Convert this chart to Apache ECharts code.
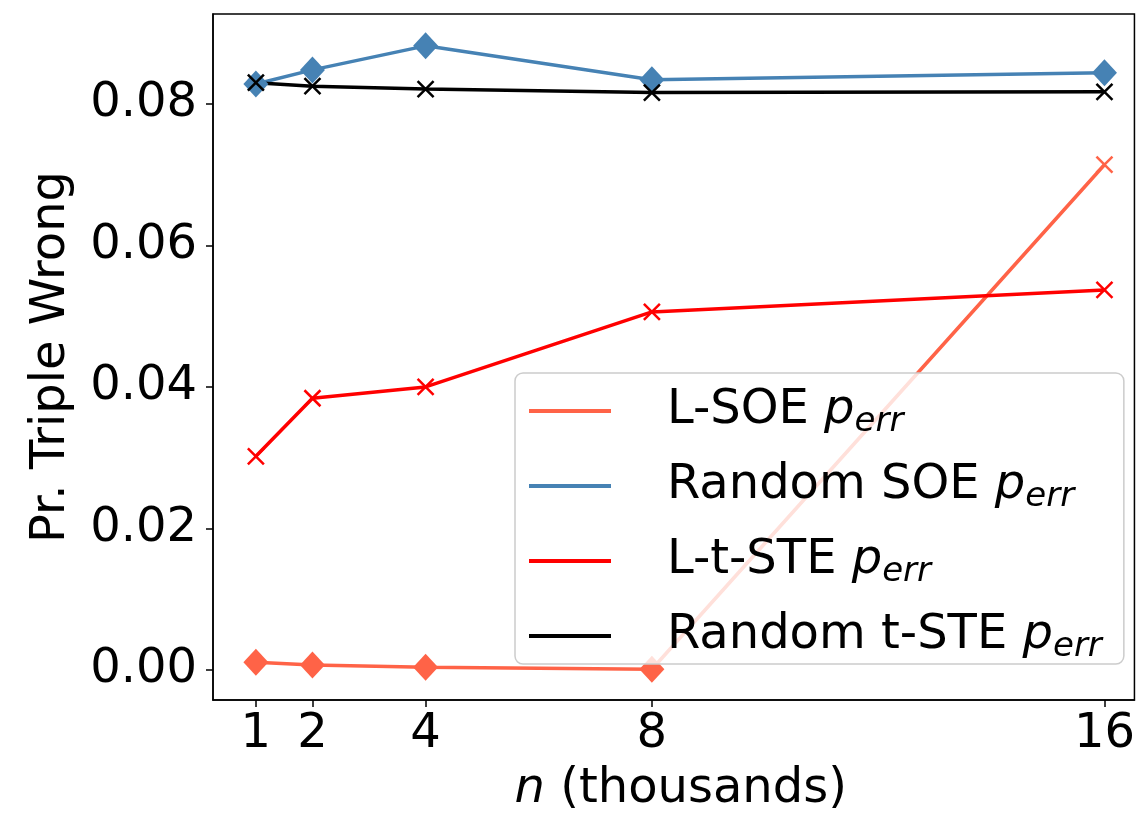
<!DOCTYPE html>
<html>
<head>
<meta charset="utf-8">
<script src="https://cdn.jsdelivr.net/npm/echarts@6/dist/echarts.min.js"></script>
<style>html,body{margin:0;padding:0;background:#fff}#c{width:1138px;height:819px}</style>
</head>
<body>
<div id="c"></div>
<script>
const nValues = [1, 2, 4, 8, 16];
const lSoe = [0.0011, 0.0007, 0.0004, 0.0001, 0.0714];
const lSoeMarkers = ['d', 'd', 'd', 'd', 'x'];
const randomSoe = [0.0828, 0.0848, 0.0882, 0.0834, 0.0844];
const randomSoeMarkers = ['d', 'd', 'd', 'd', 'd'];
const lTste = [0.0302, 0.0384, 0.0400, 0.0506, 0.0537];
const lTsteMarkers = ['x', 'x', 'x', 'x', 'x'];
const randomTste = [0.0830, 0.0825, 0.0821, 0.0816, 0.0817];
const randomTsteMarkers = ['x', 'x', 'x', 'x', 'x'];
const xTicks = [1, 2, 4, 8, 16];
const yTicks = [0, 0.02, 0.04, 0.06, 0.08];
const seriesNames = ['L-SOE', 'Random SOE', 'L-t-STE', 'Random t-STE'];
const seriesColors = ['#ff6347', '#4682b4', '#ff0000', '#000000'];

const FONT = 'DejaVu Sans';
const FS = 48;
const xMark = 'path://M0,0L10,10M10,0L0,10';

function markerStyle(m, color) {
  if (m === 'x') {
    return { symbol: xMark, symbolSize: 16, itemStyle: { color: 'rgba(0,0,0,0)', borderColor: color, borderWidth: 2.5 } };
  }
  return { symbol: 'diamond', symbolSize: [25, 27], itemStyle: { color: color, borderWidth: 0 } };
}

function lineSeries(name, data, markers, color) {
  return {
    name, type: 'line',
    data: nValues.map((x, i) => Object.assign({ value: [x, data[i]] }, markerStyle(markers[i], color))),
    showAllSymbol: true,
    lineStyle: { color, width: 3.5 },
    itemStyle: { color },
    emphasis: { disabled: true },
    animation: false,
    z: 2
  };
}

const chart = echarts.init(document.getElementById('c'), null, { renderer: 'canvas' });
chart.setOption({
  animation: false,
  grid: { left: 213, right: 1, top: 14, bottom: 119, show: true, borderColor: '#000', borderWidth: 1.5, backgroundColor: 'transparent' },
  xAxis: {
    type: 'value', min: 0.242, max: 16.53,
    name: '{i|n} (thousands)', nameLocation: 'middle', nameGap: 66,
    nameTextStyle: { fontFamily: FONT, fontSize: FS, color: '#000', padding: [0, 0, 0, 14], rich: { i: { fontFamily: FONT, fontSize: FS, fontStyle: 'italic', color: '#000' } } },
    axisLine: { show: true, onZero: false, lineStyle: { color: '#000', width: 1.5 } },
    axisTick: { show: true, customValues: xTicks, length: 7, lineStyle: { color: '#000', width: 1.5 } },
    axisLabel: { customValues: xTicks, fontFamily: FONT, fontSize: FS, color: '#000', margin: 11 },
    splitLine: { show: false }
  },
  yAxis: {
    type: 'value', min: -0.00424, max: 0.0927,
    name: 'Pr. Triple Wrong', nameLocation: 'middle', nameGap: 137, nameRotate: 90,
    nameTextStyle: { fontFamily: FONT, fontSize: FS, color: '#000' },
    axisLine: { show: true, onZero: false, lineStyle: { color: '#000', width: 1.5 } },
    axisTick: { show: true, customValues: yTicks, length: 7, lineStyle: { color: '#000', width: 1.5 } },
    axisLabel: { customValues: yTicks, fontFamily: FONT, fontSize: FS, color: '#000', margin: 16, formatter: v => v.toFixed(2) },
    splitLine: { show: false }
  },
  legend: {
    data: seriesNames.map((n, i) => ({ name: n, itemStyle: { color: seriesColors[i], borderWidth: 0 } })),
    left: 515, top: 373, orient: 'vertical',
    backgroundColor: 'rgba(255,255,255,0.8)', borderColor: '#ccc', borderWidth: 1.5, borderRadius: 8,
    padding: [14, 22, 0, 14],
    icon: 'rect', itemWidth: 82, itemHeight: 4, itemGap: 23,
    z: 10,
    formatter: name => name + ' {i|p}{s|err}',
    textStyle: {
      fontFamily: FONT, fontSize: FS, color: '#000', padding: [0, 0, 0, 51],
      rich: {
        i: { fontFamily: FONT, fontSize: FS, fontStyle: 'italic', color: '#000' },
        s: { fontFamily: FONT, fontSize: 34, fontStyle: 'italic', color: '#000', padding: [22, 0, 0, 0] }
      }
    },
    selectedMode: false
  },
  series: [
    lineSeries('L-SOE', lSoe, lSoeMarkers, seriesColors[0]),
    lineSeries('Random SOE', randomSoe, randomSoeMarkers, seriesColors[1]),
    lineSeries('L-t-STE', lTste, lTsteMarkers, seriesColors[2]),
    lineSeries('Random t-STE', randomTste, randomTsteMarkers, seriesColors[3])
  ]
});
</script>
</body>
</html>
